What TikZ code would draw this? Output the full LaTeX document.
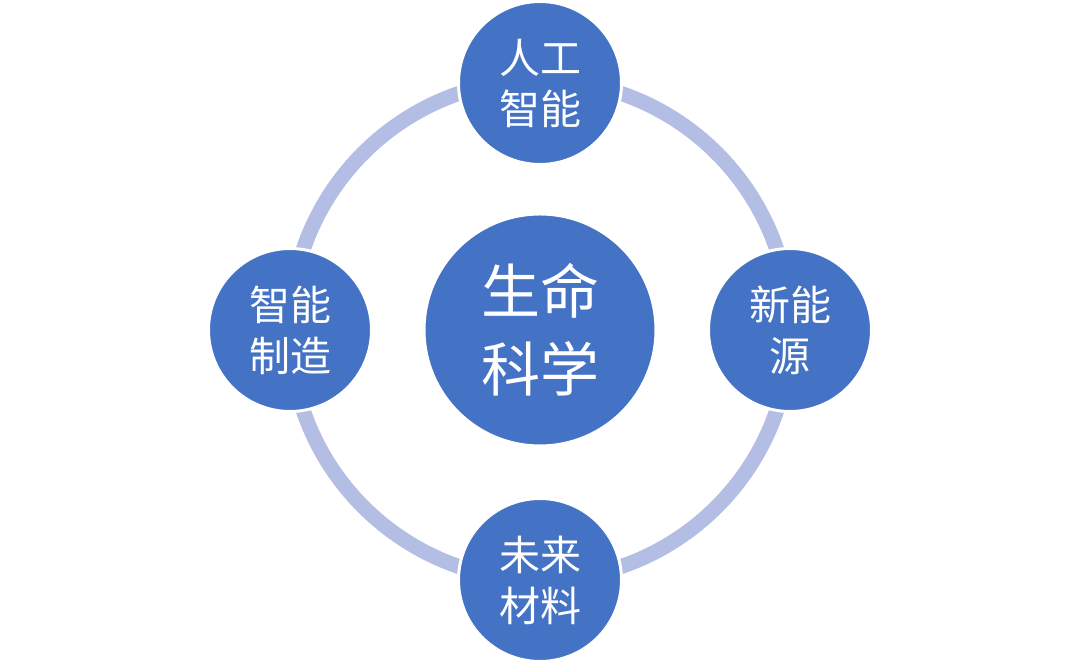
\documentclass[tikz,border=0pt]{standalone}
\usepackage{fontspec}
\newfontfamily\cjk{Noto Sans CJK SC}
\definecolor{nodeblue}{HTML}{4472C4}
\definecolor{ringblue}{HTML}{B4BDE3}
\begin{document}
\begin{tikzpicture}[x=1pt,y=1pt,
  small/.style={circle,fill=nodeblue,draw=white,line width=3pt,minimum size=163pt,inner sep=0pt,text=white,align=center,font=\cjk\fontsize{41}{51}\selectfont},
  big/.style={circle,fill=nodeblue,draw=white,line width=3pt,minimum size=232pt,inner sep=0pt,text=white,align=center,font=\cjk\fontsize{59}{78}\selectfont}]
\useasboundingbox (0,0) rectangle (1080,663);
\coordinate (c) at (540,333);
\draw[ringblue,line width=15pt] (c) circle[radius=250];
\node[big] (center) at (c) {生命\\科学};
\node[small] (top) at (540,580) {人工\\智能};
\node[small] (right) at (790,333) {新能\\源};
\node[small] (bottom) at (540,83) {未来\\材料};
\node[small] (left) at (290,333) {智能\\制造};
\end{tikzpicture}
\end{document}
